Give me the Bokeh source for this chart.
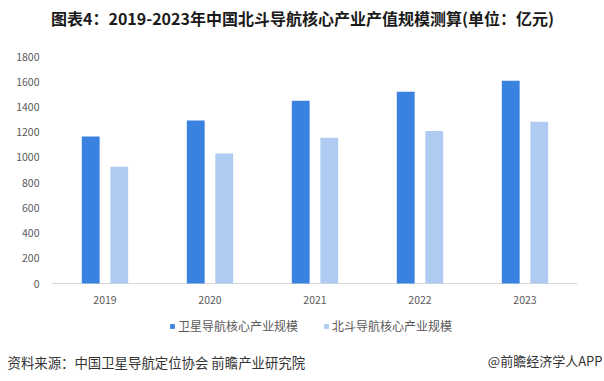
from bokeh.plotting import figure
from bokeh.models import ColumnDataSource, Label, Legend, LegendItem, Range1d
from bokeh.core.properties import value
from bokeh.embed import file_html
from bokeh.resources import INLINE

years = ["2019", "2020", "2021", "2022", "2023"]
satellite_core = [1166, 1292, 1450, 1520, 1608]
beidou_core = [925, 1030, 1155, 1210, 1283]
series_names = ["卫星导航核心产业规模", "北斗导航核心产业规模"]
y_ticks = [0, 200, 400, 600, 800, 1000, 1200, 1400, 1600, 1800]
y_tick_labels = [str(t) for t in y_ticks]

title_text = "图表4：2019-2023年中国北斗导航核心产业产值规模测算(单位：亿元)"
source_text = "资料来源：中国卫星导航定位协会 前瞻产业研究院"
brand_text = "@前瞻经济学人APP"

FONT = "Noto Sans CJK SC"
DARK = "#3a82e0"
LIGHT = "#b0cbf2"
TICK = "#595959"

# canvas geometry (pixels)
W, H = 604, 381
PLOT_L, PLOT_R = 52, 577      # plot area left/right
Y0_PX, YMAX_PX = 283, 56      # pixel rows of value 0 and 1800
YMAX = 1800

n = len(years)
cat_px = (PLOT_R - PLOT_L) / n
x_start = -0.5 - PLOT_L / cat_px
x_end = -0.5 + (W - PLOT_L) / cat_px
per_px = YMAX / (Y0_PX - YMAX_PX)
y_start = -(H - Y0_PX) * per_px
y_end = Y0_PX * per_px

idx = list(range(n))
src = ColumnDataSource(dict(
    x=idx, year=years, a=satellite_core, b=beidou_core,
    xa=[i - 0.136 for i in idx], xb=[i + 0.136 for i in idx],
    zero=[0] * n,
))
tick_src = ColumnDataSource(dict(y=y_ticks, label=y_tick_labels, x=[-0.5] * len(y_ticks)))

p = figure(width=W, height=H, x_range=Range1d(x_start, x_end), y_range=Range1d(y_start, y_end),
           output_backend="svg", toolbar_location=None, min_border=0,
           x_axis_type=None, y_axis_type=None)
p.outline_line_color = None
p.xgrid.grid_line_color = None
p.ygrid.grid_line_color = None
p.background_fill_color = "white"
p.border_fill_color = "white"

# category axis line
p.segment(x0=[-0.5], y0=[0], x1=[n - 0.5], y1=[0], line_color="#d9d9d9", line_width=1)

r1 = p.vbar(x="xa", top="a", width=0.17, source=src, fill_color=DARK, line_color=None)
r2 = p.vbar(x="xb", top="b", width=0.17, source=src, fill_color=LIGHT, line_color=None)

# value tick labels
p.text(x="x", y="y", text="label", source=tick_src, x_offset=-13,
       text_align="right", text_baseline="middle", text_font=value(FONT),
       text_font_size="10.5px", text_color=TICK)
# category labels
p.text(x="x", y="zero", text="year", source=src, y_offset=16,
       text_align="center", text_baseline="middle", text_font=value(FONT),
       text_font_size="10.5px", text_color=TICK)

legend = Legend(items=[LegendItem(label=series_names[0], renderers=[r1]),
                       LegendItem(label=series_names[1], renderers=[r2])],
                orientation="horizontal", location=(169, 47),
                background_fill_alpha=0, border_line_color=None,
                glyph_width=6, glyph_height=6, label_height=12, label_width=10,
                spacing=25, padding=0, margin=0,
                label_text_font=FONT, label_text_font_size="12px",
                label_text_color=TICK, label_standoff=3)
p.add_layout(legend, "center")

p.add_layout(Label(x=302, y=H - 17, x_units="screen", y_units="screen", text=title_text,
                   text_font=FONT, text_font_size="16px", text_font_style="bold",
                   text_color="#1a1a1a", text_align="center", text_baseline="middle"))
p.add_layout(Label(x=7, y=H - 361, x_units="screen", y_units="screen", text=source_text,
                   text_font=FONT, text_font_size="13.4px", text_color="#333333",
                   text_align="left", text_baseline="middle"))
p.add_layout(Label(x=602, y=H - 360, x_units="screen", y_units="screen", text=brand_text,
                   text_font=FONT, text_font_size="13px", text_color="#333333",
                   text_align="right", text_baseline="middle"))

open("out.html", "w").write(file_html(p, INLINE))
